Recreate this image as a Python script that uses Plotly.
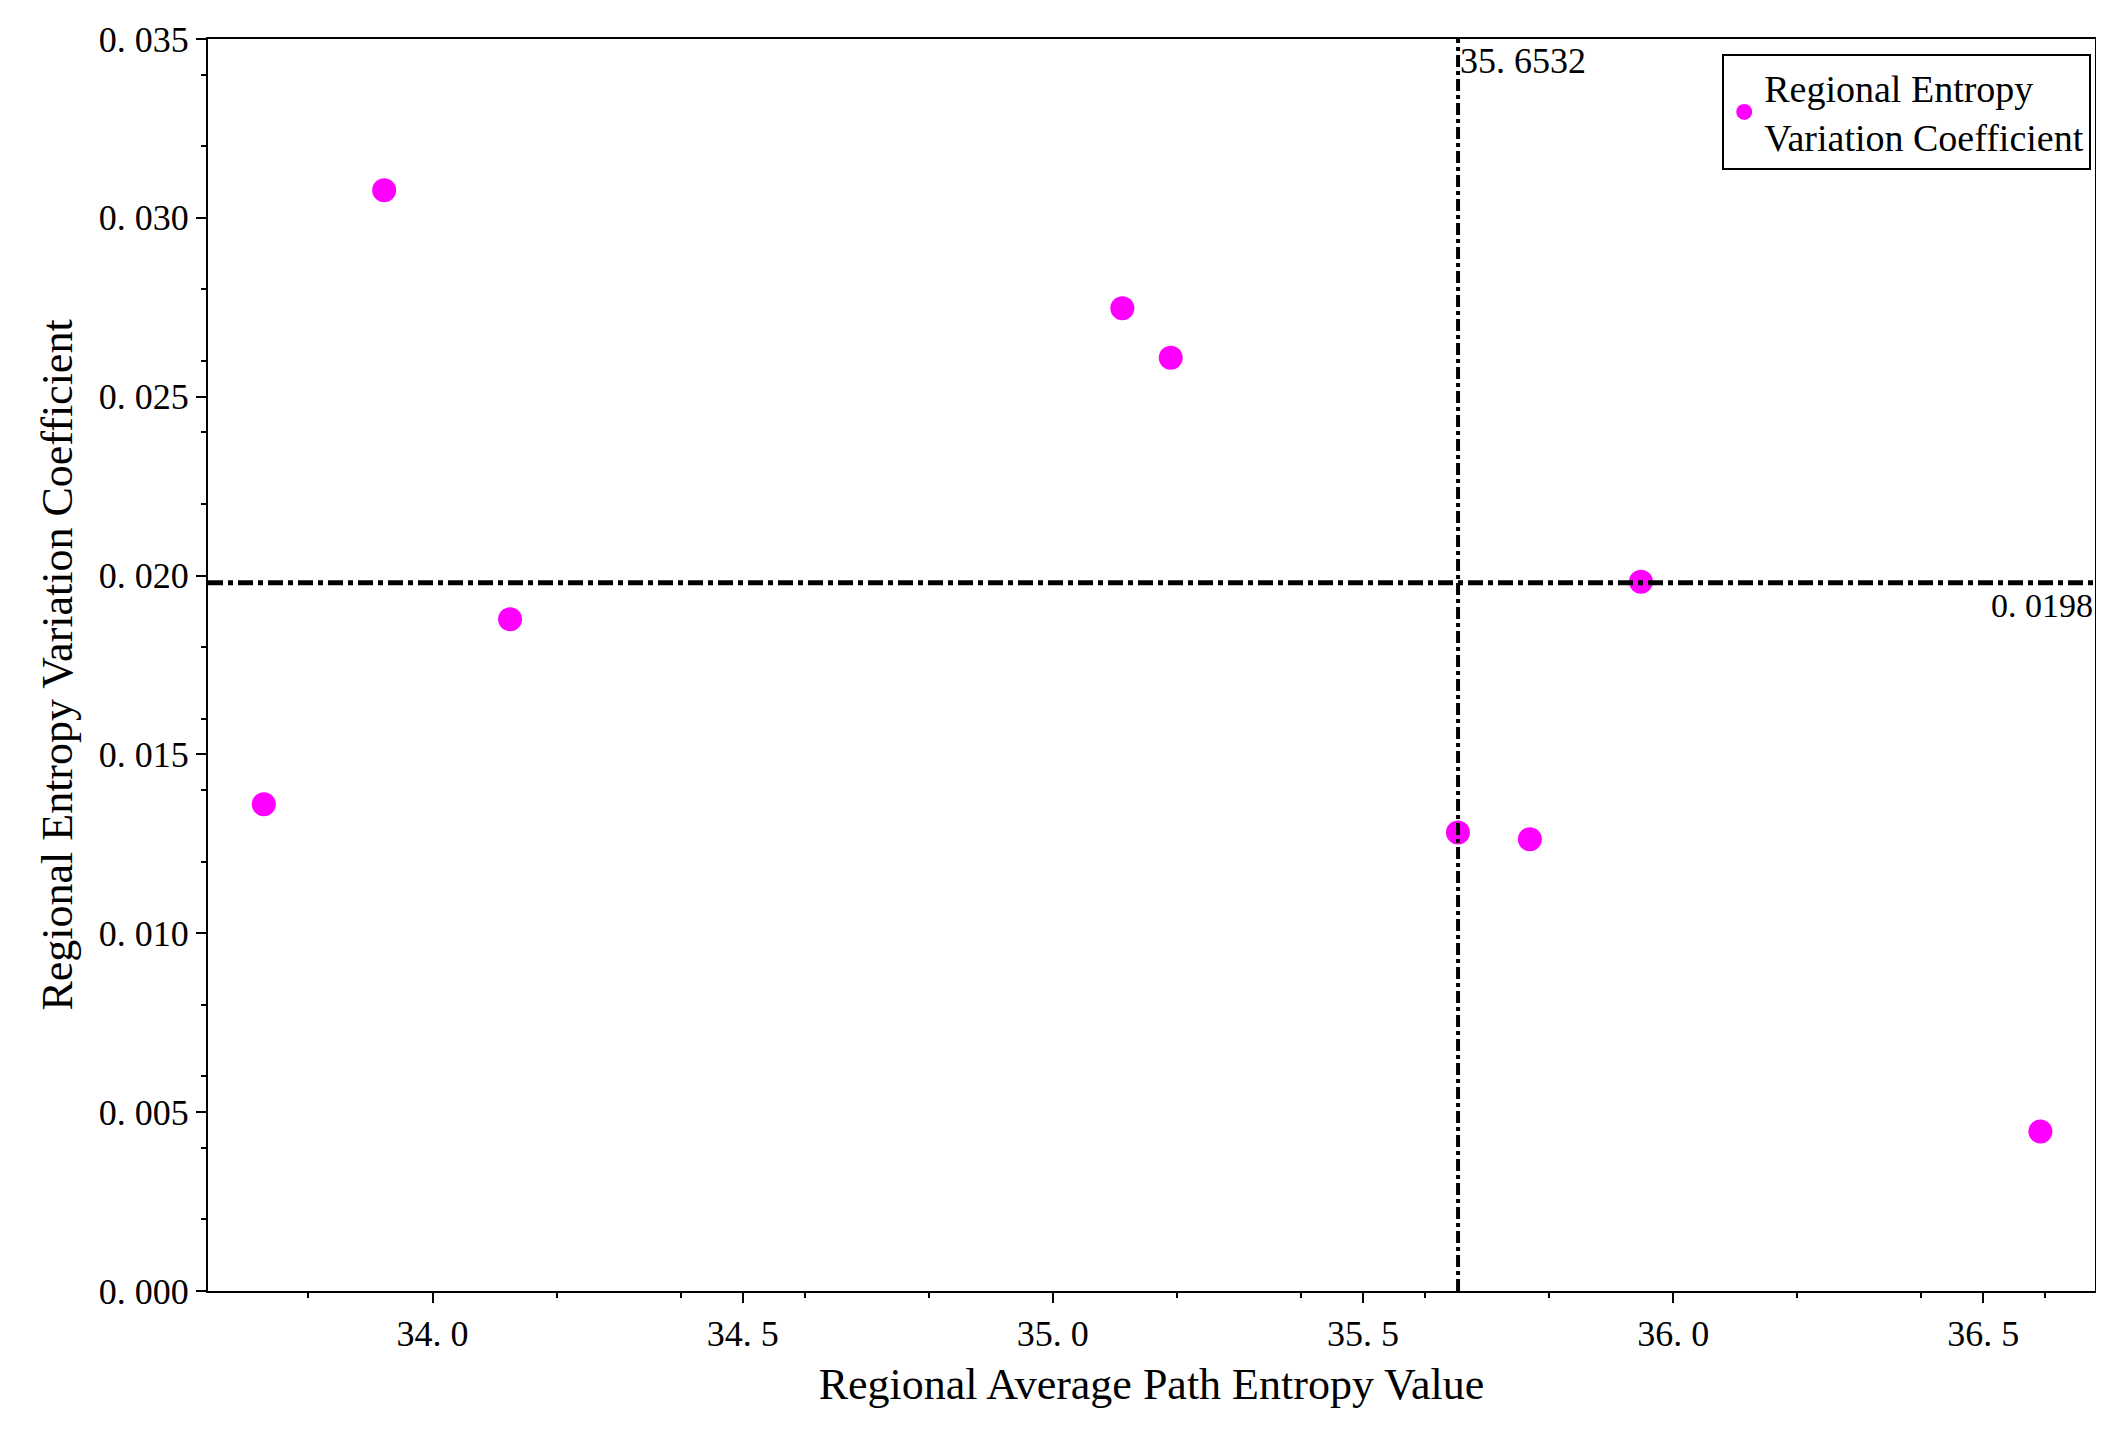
import plotly.graph_objects as go

entropy = [33.728, 33.922, 34.125, 35.112, 35.190, 35.653, 35.769, 35.948, 36.592]
variation = [0.01361, 0.03077, 0.01878, 0.02747, 0.02609, 0.01282, 0.01263, 0.01983, 0.00446]
mean_x = 35.6532
mean_y = 0.0198
x_ticks = [34.0, 34.5, 35.0, 35.5, 36.0, 36.5]
y_ticks = [0, 0.005, 0.01, 0.015, 0.02, 0.025, 0.03, 0.035]

serif = "Liberation Serif"

fig = go.Figure()
fig.add_trace(go.Scatter(
    x=entropy, y=variation, mode="markers",
    marker=dict(color="#ff00ff", size=24),
    name="Regional Entropy<br>Variation Coefficient",
))
fig.add_shape(type="line", x0=mean_x, x1=mean_x, y0=0, y1=1, yref="paper",
              line=dict(color="black", width=4, dash="dashdot"))
fig.add_shape(type="line", x0=0, x1=1, xref="paper", y0=mean_y, y1=mean_y,
              line=dict(color="black", width=5, dash="dashdot"))
fig.add_annotation(x=mean_x, y=1, yref="paper", text="35. 6532", showarrow=False,
                   xanchor="left", yanchor="top", font=dict(family=serif, size=36))
fig.add_annotation(x=1, xref="paper", y=mean_y, text="0. 0198", showarrow=False,
                   xanchor="right", yanchor="top", yshift=-2, font=dict(family=serif, size=34))

axis_common = dict(showgrid=False, zeroline=False, showline=True, linecolor="black",
                   linewidth=2, mirror=True, ticks="outside", ticklen=10, tickwidth=2,
                   tickcolor="black", tickfont=dict(family=serif, size=36, color="black"),
                   minor=dict(ticks="outside", ticklen=5, tickwidth=2, tickcolor="black"))

fig.update_xaxes(range=[33.638, 36.68], tickvals=x_ticks,
                 ticktext=[f"{v:.1f}".replace(".", ". ") for v in x_ticks],
                 title=dict(text="Regional Average Path Entropy Value",
                            font=dict(family=serif, size=44, color="black")),
                 **axis_common)
fig.update_yaxes(range=[0, 0.035], tickvals=y_ticks,
                 ticktext=[f"{v:.3f}".replace(".", ". ") for v in y_ticks],
                 title=dict(text="Regional Entropy Variation Coefficient",
                            font=dict(family=serif, size=44, color="black"), standoff=12),
                 **axis_common)

fig.update_layout(
    width=2104, height=1443, plot_bgcolor="white", paper_bgcolor="white",
    margin=dict(l=200, r=17, t=22, b=160),
    font=dict(family=serif, color="black"),
    showlegend=True,
    legend=dict(x=0.998, y=0.988, xanchor="right", yanchor="top",
                bordercolor="black", borderwidth=2, bgcolor="white",
                font=dict(family=serif, size=38)),
)

fig.write_html("out.html")
